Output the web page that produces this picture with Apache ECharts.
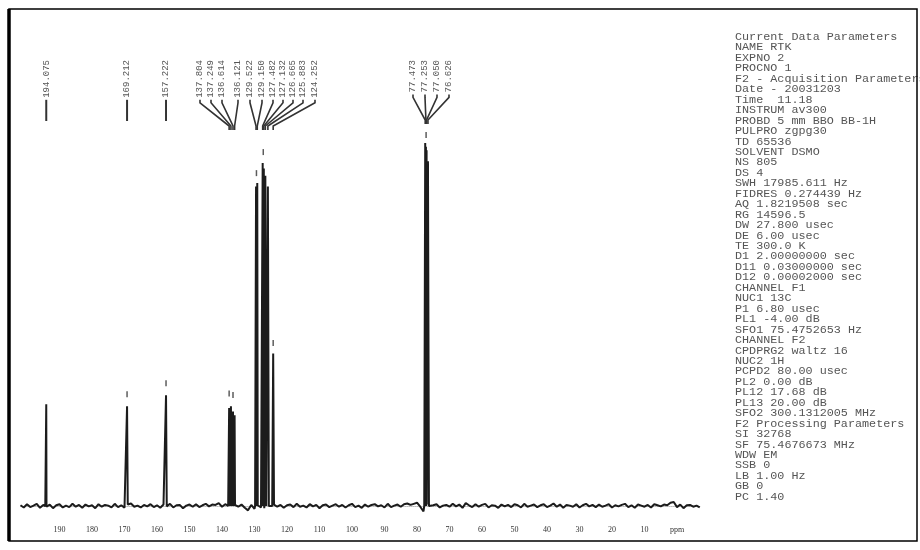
<!DOCTYPE html>
<html lang="en">
<head>
<meta charset="UTF-8">
<title>13C NMR spectrum</title>
<script src="https://cdn.jsdelivr.net/npm/echarts@6.0.0/dist/echarts.min.js"></script>
<style>html,body{margin:0;padding:0;background:#fff;}</style>
</head>
<body>
<div id="main" style="width:920px;height:550px"></div>
<script type="text/javascript">
// baseline noise, one reading per ppm, from 202 ppm down to -7 ppm
var noiseStart = 202;
var noise = [
  0.2,-0.4,0.5,-0.3,0.1,0.6,-0.5,0.3,-0.2,0.4,-0.6,0.2,0.5,-0.4,0.1,-0.3,0.6,-0.2,0.3,-0.5,
  0.4,-0.1,0.2,-0.6,0.5,-0.2,0.3,0.1,-0.4,0.6,-0.3,0.2,-0.5,0.4,0.7,-0.2,0.1,-0.4,0.3,-0.1,
  0.5,-0.3,0.2,-0.5,0.4,-0.1,0.6,-0.4,0.2,0.3,-0.6,0.1,0.4,-0.2,0.5,-0.3,0.2,0.6,-0.1,0.4,
  0.3,0.8,-0.2,0.5,0.2,0.6,0.3,-0.2,0.4,-0.5,-1.2,0.3,-0.8,0.2,-0.4,-0.6,0.5,-0.3,0.4,-0.2,
  0.3,-0.5,0.2,0.4,-0.3,0.6,-0.2,0.1,-0.4,0.5,-0.1,0.3,-0.6,0.2,0.4,-0.3,0.1,0.5,-0.2,0.3,
  -0.4,0.2,0.6,-0.3,0.1,-0.5,0.4,-0.2,0.3,0.5,-0.1,0.2,-0.4,0.6,-0.3,0.1,0.4,-0.2,0.5,0.7,
  0.3,0.6,0.9,-0.2,-1.5,0.4,-0.3,0.2,0.5,-0.4,0.1,0.3,-0.2,0.6,-0.1,0.4,-0.5,0.8,0.2,-0.3,
  0.5,-0.2,0.3,0.6,-0.4,0.2,0.1,-0.5,0.4,-0.1,0.3,-0.3,0.5,0.2,-0.4,0.6,-0.2,0.1,0.4,-0.3,
  0.2,0.5,-0.3,0.1,0.7,-0.2,0.4,-0.5,0.3,0.1,-0.2,0.5,-0.4,0.2,0.6,-0.1,0.3,-0.3,0.4,-0.2,
  0.1,0.5,-0.4,0.2,-0.1,0.3,0.6,-0.3,0.2,-0.5,0.4,0.1,-0.2,0.3,-0.4,0.5,0.2,-0.1,0.4,0.2,
  0.9,1.1,-0.3,0.4,-0.6,0.2,0.3,-0.2,0.1,-0.4
];

// picked peaks (ppm) and their heights (solvent peak = 100)
var peakPpm = [194.075, 169.212, 157.222, 137.804, 137.249, 136.614, 136.121,
  129.522, 129.150, 127.482, 127.132, 126.665, 125.883, 124.252,
  77.473, 77.253, 77.050, 76.626];
var peakHeight = [28, 27.5, 30.5, 27, 27.5, 26, 25,
  88, 89, 94.5, 93, 91, 88, 42,
  100, 99, 98, 95];

// small peak-pick ticks drawn above the peak tops
var pickPpm = [169.212, 157.222, 137.804, 136.614, 129.4, 127.3, 124.252, 77.2];
var pickHeight = [30.8, 33.8, 31, 30.6, 91.7, 97.5, 44.9, 102.2];

// axis tick labels
var tickValues = [0, 10, 20, 30, 40, 50, 60, 70, 80, 90, 100, 110, 120, 130, 140, 150, 160, 170, 180, 190];

// label texts
var singleLabels = ['194.075', '169.212', '157.222'];
var clusterLabels = ['137.804', '137.249', '136.614', '136.121', '129.522', '129.150',
  '127.482', '127.132', '126.665', '125.883', '124.252'];
var solventLabels = ['77.473', '77.253', '77.050', '76.626'];

var params = [
  'Current Data Parameters', 'NAME RTK', 'EXPNO 2', 'PROCNO 1',
  'F2 - Acquisition Parameters', 'Date - 20031203', 'Time  11.18', 'INSTRUM av300',
  'PROBD 5 mm BBO BB-1H', 'PULPRO zgpg30', 'TD 65536', 'SOLVENT DSMO', 'NS 805', 'DS 4',
  'SWH 17985.611 Hz', 'FIDRES 0.274439 Hz', 'AQ 1.8219508 sec', 'RG 14596.5',
  'DW 27.800 usec', 'DE 6.00 usec', 'TE 300.0 K', 'D1 2.00000000 sec',
  'D11 0.03000000 sec', 'D12 0.00002000 sec', 'CHANNEL F1', 'NUC1 13C',
  'P1 6.80 usec', 'PL1 -4.00 dB', 'SFO1 75.4752653 Hz', 'CHANNEL F2',
  'CPDPRG2 waltz 16', 'NUC2 1H', 'PCPD2 80.00 usec', 'PL2 0.00 dB', 'PL12 17.68 dB',
  'PL13 20.00 dB', 'SFO2 300.1312005 MHz', 'F2 Processing Parameters', 'SI 32768',
  'SF 75.4676673 MHz', 'WDW EM', 'SSB 0', 'LB 1.00 Hz', 'GB 0', 'PC 1.40'
];

var spectrum = [];
noise.forEach(function (v, i) { spectrum.push([noiseStart - i, v]); });
peakPpm.forEach(function (p, i) {
  spectrum.push([p + 0.3, 0], [p, peakHeight[i]], [p - 0.3, 0]);
});
spectrum.sort(function (a, b) { return b[0] - a[0]; });

var picks = pickPpm.map(function (p, i) { return [p, pickHeight[i]]; });

var myChart = echarts.init(document.getElementById('main'));
var option = {
  animation: false,
  backgroundColor: '#fff',
  grid: { left: 20.5, right: 220.25, top: 124.85, bottom: 31 },
  xAxis: {
    type: 'value', inverse: true, min: -7, max: 202,
    splitLine: { show: false },
    axisTick: { show: false },
    axisLine: { lineStyle: { color: '#bbb', type: 'dotted', width: 1 } },
    axisLabel: {
      customValues: tickValues,
      fontSize: 8, color: '#333', margin: 7, fontFamily: 'Liberation Serif',
      formatter: function (v) { return v === 0 ? 'ppm' : String(v); }
    }
  },
  yAxis: { type: 'value', show: false, min: -3.58, max: 105 },
  series: [
    {
      type: 'line', data: spectrum, showSymbol: false, silent: true,
      lineStyle: { color: '#1c1c1c', width: 2 }
    },
    {
      type: 'scatter', data: picks, symbol: 'rect', symbolSize: [1.5, 6],
      itemStyle: { color: '#333' }, silent: true
    }
  ]
};
myChart.setOption(option);

// annotations: labels, leader lines, parameter block, frame
var gfx = [];
var toX = function (ppm) { return myChart.convertToPixel({ xAxisIndex: 0 }, ppm); };
var labelFont = '9px "Liberation Mono"';
var labelTop = 60;
function addLabel(text, x) {
  gfx.push({
    type: 'text', x: x, y: labelTop, rotation: Math.PI / 2,
    style: { text: text, font: labelFont, fill: '#555', align: 'right', verticalAlign: 'middle' }
  });
  return labelTop + text.length * 5.4;
}
// single peaks: label straight above
singleLabels.forEach(function (t) {
  var x = toX(parseFloat(t));
  var bottom = addLabel(t, x);
  gfx.push({ type: 'line', shape: { x1: x, y1: bottom + 2, x2: x, y2: 121 },
    style: { stroke: '#333', lineWidth: 2 } });
});
// aromatic cluster
var clusterX = [200, 211, 222, 238, 250, 262, 273, 283, 293, 303, 315];
clusterLabels.forEach(function (t, i) {
  var lx = clusterX[i];
  var bottom = addLabel(t, lx);
  var px = toX(parseFloat(t));
  gfx.push({ type: 'polyline', shape: { points: [[lx, bottom + 2], [lx, bottom + 5], [px, 126], [px, 130]] },
    style: { stroke: '#333', lineWidth: 1.6, fill: null } });
});
// solvent triplet
var solventX = [413, 425, 437, 449];
solventLabels.forEach(function (t, i) {
  var lx = solventX[i];
  var bottom = addLabel(t, lx);
  var px = toX(parseFloat(t));
  gfx.push({ type: 'polyline', shape: { points: [[lx, bottom + 2], [lx, bottom + 5], [px, 120], [px, 124]] },
    style: { stroke: '#333', lineWidth: 1.6, fill: null } });
});
// parameter block
gfx.push({
  type: 'text', x: 735, y: 32, scaleX: 1.12,
  style: { text: params.join('\n'), font: '10.5px "Liberation Mono"', lineHeight: 10.45,
    fill: '#555', verticalAlign: 'top' }
});
// frame
gfx.push({ type: 'rect', shape: { x: 9, y: 9, width: 908, height: 532 },
  style: { fill: null, stroke: '#000', lineWidth: 1.5 } });
gfx.push({ type: 'line', shape: { x1: 9, y1: 9, x2: 9, y2: 541 },
  style: { stroke: '#000', lineWidth: 3.5 } });

myChart.setOption({ graphic: gfx });
</script>
</body>
</html>
